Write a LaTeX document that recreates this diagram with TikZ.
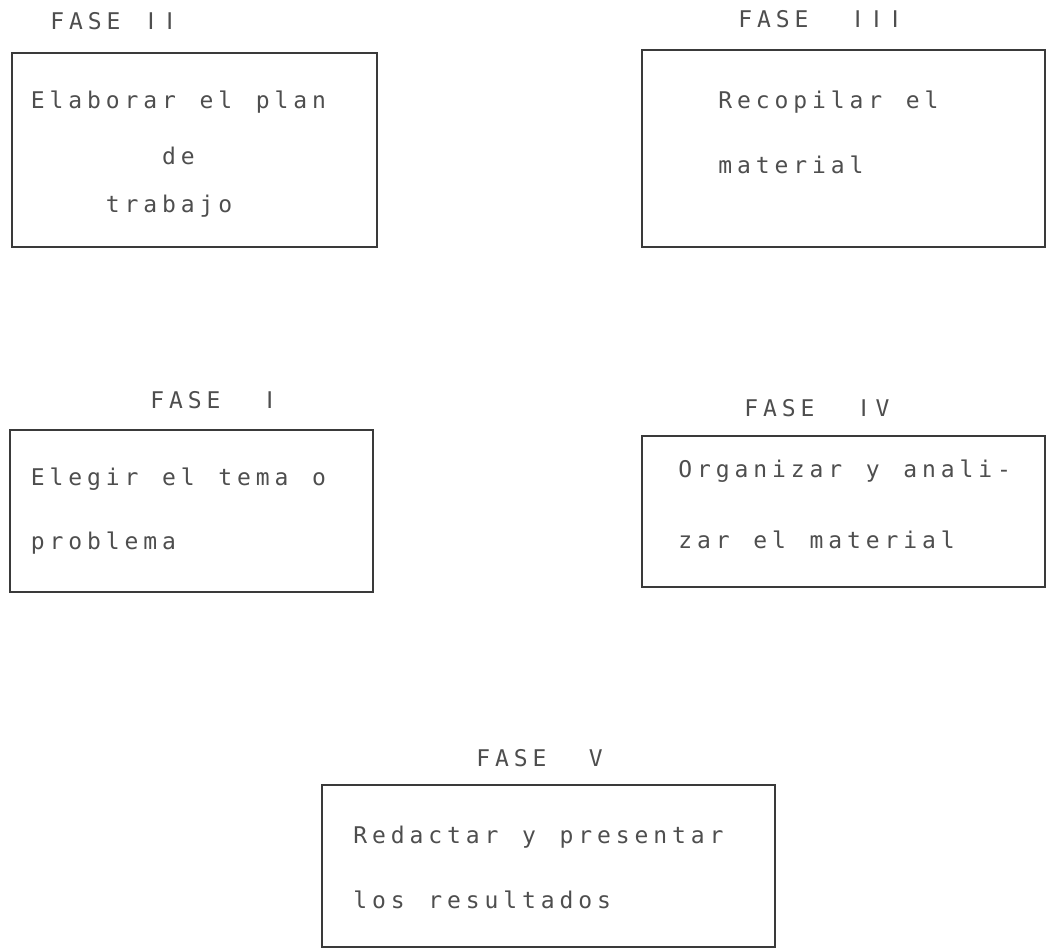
\documentclass[tikz,border=0pt]{standalone}
\usepackage{fontspec}
\setmonofont{DejaVu Sans Mono}
\setsansfont{DejaVu Sans}
\newlength\pitch \setlength\pitch{18.75pt}
\makeatletter
\newcommand\tw[1]{\tw@loop#1\relax}
\def\tw@loop#1{\ifx\relax#1\else\makebox[\pitch][c]{#1}\expandafter\tw@loop\fi}
\makeatother
\newcommand\rI{{\sffamily I}}
\definecolor{ink}{HTML}{4E4E4E}
\definecolor{boxgray}{HTML}{3A3A3A}
\begin{document}
\begin{tikzpicture}[x=1pt,y=-1pt,
  box/.style={draw=boxgray,line width=1.8pt,rectangle,inner sep=0pt,outer sep=0pt,anchor=north west},
  txt/.style={text=ink,inner sep=0pt,outer sep=0pt,anchor=base west,font=\ttfamily\fontsize{23}{28}\selectfont}]
\useasboundingbox (0,0) rectangle (1048,950);
% boxes
\node[box,minimum width=365pt,minimum height=194pt] (b2) at (12,53) {};
\node[box,minimum width=403pt,minimum height=197pt] (b3) at (642,50) {};
\node[box,minimum width=363pt,minimum height=162pt] (b1) at (10,430) {};
\node[box,minimum width=403pt,minimum height=151pt] (b4) at (642,436) {};
\node[box,minimum width=453pt,minimum height=162pt] (b5) at (322,785) {};
% labels
\node[txt] (l2) at (48,30) {\tw{FASE~\rI\rI}};
\node[txt] (l3) at (736,28) {\tw{FASE~~\rI\rI\rI}};
\node[txt] (l1) at (148,408) {\tw{FASE~~\rI}};
\node[txt] (l4) at (742,416) {\tw{FASE~~\rI V}};
\node[txt] (l5) at (474,766) {\tw{FASE~~V}};
% box texts
\node[txt] (t2a) at (28.5,108) {\tw{Elaborar~el~plan}};
\node[txt] (t2b) at (28.5,164) {\tw{~~~~~~~de}};
\node[txt] (t2c) at (28.5,212) {\tw{~~~~trabajo}};
\node[txt] (t3a) at (716,108) {\tw{Recopilar~el}};
\node[txt] (t3b) at (716,173) {\tw{material}};
\node[txt] (t1a) at (28.5,485) {\tw{Elegir~el~tema~o}};
\node[txt] (t1b) at (28.5,549) {\tw{problema}};
\node[txt] (t4a) at (676,477) {\tw{Organizar~y~anali-}};
\node[txt] (t4b) at (676,548) {\tw{zar~el~material}};
\node[txt] (t5a) at (351,843) {\tw{Redactar~y~presentar}};
\node[txt] (t5b) at (351,908) {\tw{los~resultados}};
\end{tikzpicture}
\end{document}
